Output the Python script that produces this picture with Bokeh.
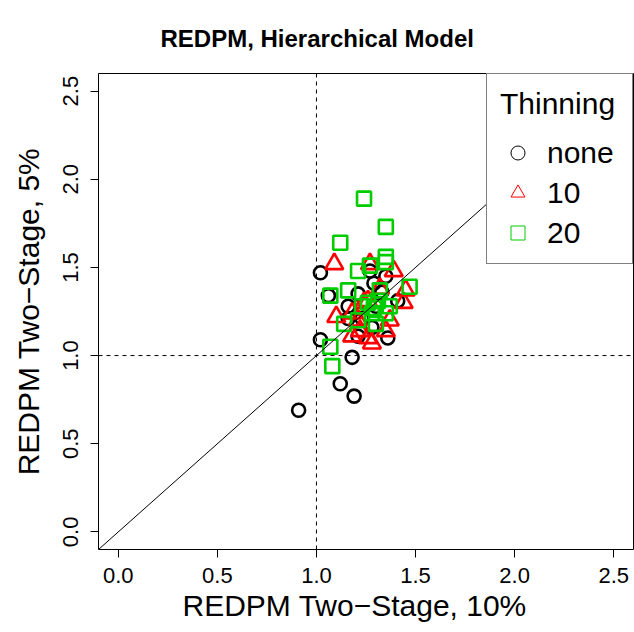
from bokeh.plotting import figure
from bokeh.models import ColumnDataSource, Span, Slope, Legend, LegendItem, FixedTicker, Range1d, Title
from bokeh.embed import file_html
from bokeh.resources import INLINE

# Thinning = none
none_x = [0.91, 1.02, 1.06, 1.02, 1.12, 1.19, 1.18, 1.16, 1.21, 1.35, 1.36, 1.41, 1.29, 1.28, 1.23, 1.30, 1.16, 1.21, 1.33, 1.27]
none_y = [0.69, 1.47, 1.34, 1.09, 0.84, 0.77, 0.99, 1.28, 1.11, 1.45, 1.10, 1.31, 1.41, 1.16, 1.21, 1.28, 1.21, 1.35, 1.36, 1.48]
# Thinning = 10
t10_x = [1.09, 1.10, 1.27, 1.39, 1.45, 1.44, 1.37, 1.28, 1.26, 1.18, 1.22, 1.21, 1.18, 1.24, 1.32, 1.35, 1.26]
t10_y = [1.52, 1.22, 1.52, 1.48, 1.37, 1.30, 1.20, 1.07, 1.10, 1.11, 1.14, 1.20, 1.24, 1.30, 1.38, 1.14, 1.31]
# Thinning = 20
t20_x = [1.24, 1.35, 1.12, 1.35, 1.35, 1.21, 1.27, 1.16, 1.07, 1.32, 1.47, 1.23, 1.26, 1.29, 1.31, 1.28, 1.35, 1.37, 1.14, 1.21, 1.07, 1.08, 1.30]
t20_y = [1.89, 1.73, 1.64, 1.56, 1.53, 1.48, 1.51, 1.37, 1.34, 1.37, 1.39, 1.28, 1.30, 1.27, 1.31, 1.24, 1.24, 1.28, 1.18, 1.20, 1.05, 0.94, 1.18]

tick_vals = [0.0, 0.5, 1.0, 1.5, 2.0, 2.5]
groups = ["none", "10", "20"]
x_title = "REDPM Two\u2212Stage, 10%"
y_title = "REDPM Two\u2212Stage, 5%"

FONT = "Liberation Sans"

p = figure(width=634, height=632, output_backend="svg", toolbar_location=None,
           x_range=Range1d(-0.1, 2.6), y_range=Range1d(-0.1, 2.6),
           min_border_left=98, min_border_right=1, min_border_top=73, min_border_bottom=83,
           title="REDPM, Hierarchical Model")
p.grid.visible = False
p.outline_line_color = "black"
p.outline_line_width = 1
p.background_fill_color = "white"
p.border_fill_color = "white"

p.title.text_font = FONT
p.title.text_font_size = "24px"
p.title.text_font_style = "bold"
p.title.text_color = "black"
p.title.align = "left"
p.title.offset = 62
p.title.standoff = 44

for ax in (p.xaxis[0], p.yaxis[0]):
    ax.ticker = FixedTicker(ticks=tick_vals)
    ax.axis_line_color = None
    ax.major_tick_in = 0
    ax.major_tick_out = 8
    ax.minor_tick_line_color = None
    ax.major_label_text_font = FONT
    ax.major_label_text_font_size = "22px"
    ax.major_label_text_color = "black"
    ax.axis_label_text_font = FONT
    ax.axis_label_text_font_size = "30px"
    ax.axis_label_text_font_style = "normal"
    ax.axis_label_text_color = "black"
    ax.major_tick_line_color = "black"
    ax.major_label_overrides = {v: f"{v:.1f}" for v in tick_vals}

p.yaxis.axis_label = y_title
p.yaxis.major_label_orientation = "vertical"
p.xaxis.major_label_standoff = 10
p.yaxis.major_label_standoff = 12
p.yaxis.axis_label_standoff = 16

# x-axis title placed as a below-panel title so that it can be offset horizontally
xt = Title(text=x_title, align="left", offset=84, standoff=2,
           text_font=FONT, text_font_size="30px", text_font_style="normal", text_color="black")
p.add_layout(xt, "below")

p.add_layout(Slope(gradient=1, y_intercept=0, line_color="black", line_width=1))
p.add_layout(Span(location=1.0, dimension="height", line_color="black", line_width=1, line_dash="4 4"))
p.add_layout(Span(location=1.0, dimension="width", line_color="black", line_width=1, line_dash="4 4"))

RED = "#FF0000"
GREEN = "#00CD00"

p.scatter(none_x, none_y, marker="circle", size=13, fill_color=None, line_color="black", line_width=2.6)
p.scatter(t10_x, t10_y, marker="triangle", size=18, fill_color=None, line_color=RED, line_width=2.6)
p.scatter(t20_x, t20_y, marker="square", size=14, fill_color=None, line_color=GREEN, line_width=2.6)

# thin legend glyphs (a single point far outside the visible range)
def off():
    return ColumnDataSource(dict(x=[-10.0], y=[-10.0]))

lg0 = p.scatter("x", "y", source=off(), marker="circle", fill_color=None, line_color="black", line_width=1)
lg1 = p.scatter("x", "y", source=off(), marker="triangle", fill_color=None, line_color=RED, line_width=1)
lg2 = p.scatter("x", "y", source=off(), marker="square", fill_color=None, line_color=GREEN, line_width=1)

legend = Legend(items=[LegendItem(label=groups[0], renderers=[lg0]),
                       LegendItem(label=groups[1], renderers=[lg1]),
                       LegendItem(label=groups[2], renderers=[lg2])],
                title="Thinning", location="top_right", margin=0,
                padding=13, spacing=5, glyph_width=35, glyph_height=35,
                label_standoff=12, label_width=72,
                title_standoff=14,
                border_line_color="black", border_line_width=1,
                background_fill_color="white", background_fill_alpha=1.0,
                label_text_font=FONT, label_text_font_size="30px", label_text_color="black",
                title_text_font=FONT, title_text_font_size="30px", title_text_font_style="normal",
                title_text_color="black")
p.add_layout(legend)

open("out.html", "w").write(file_html(p, INLINE))
